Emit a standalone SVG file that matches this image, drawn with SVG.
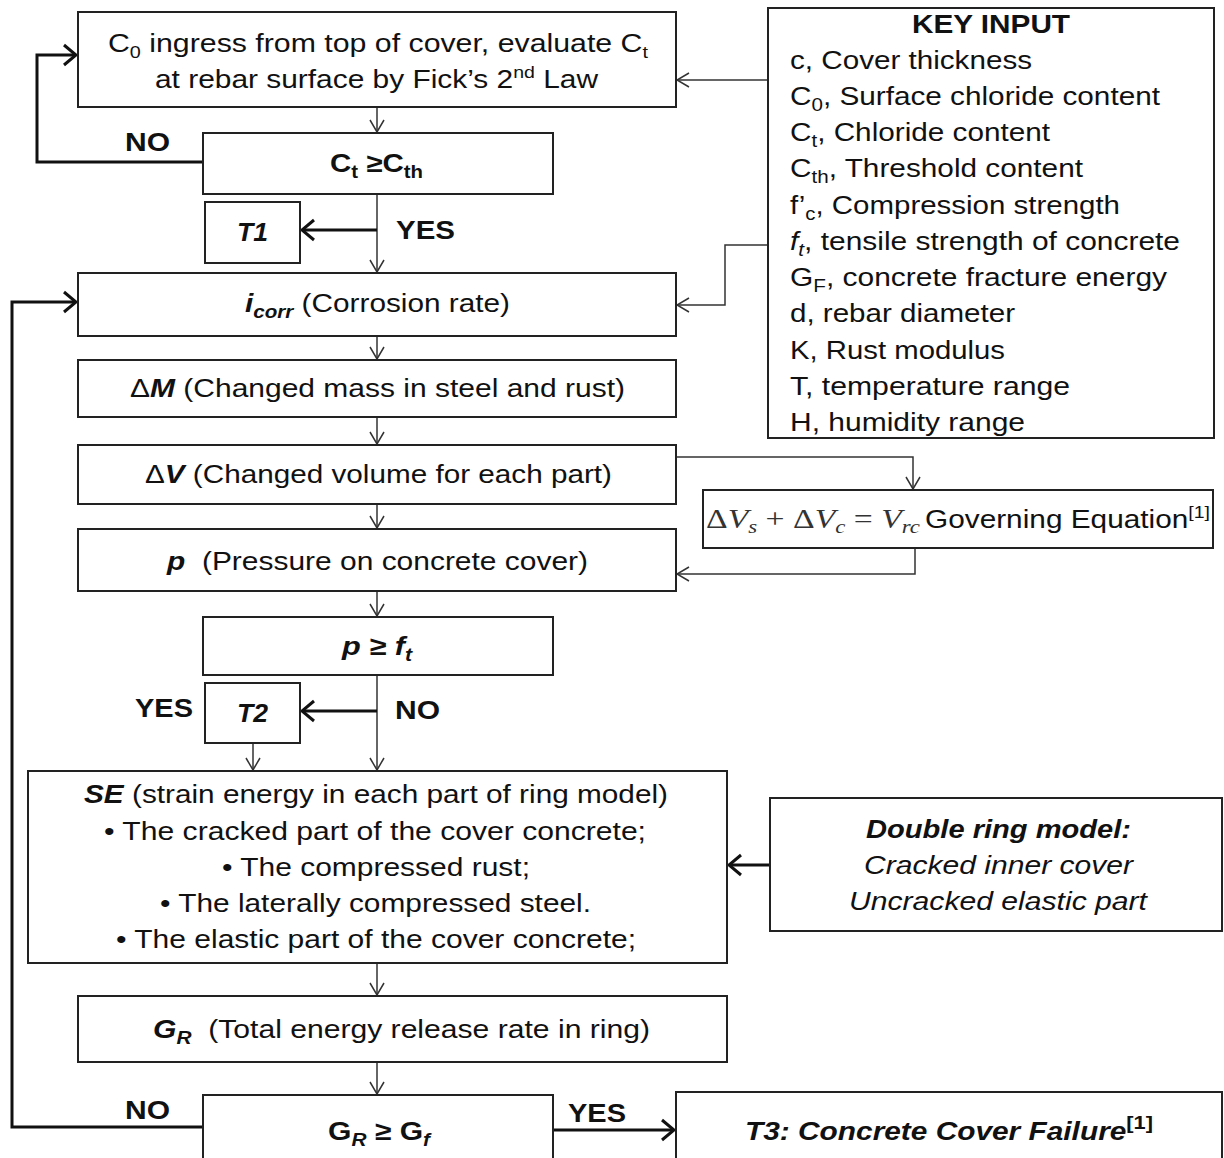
<svg xmlns="http://www.w3.org/2000/svg" width="1224" height="1158" viewBox="0 0 1224 1158">
<style>
.box{fill:#fff;stroke:#222;stroke-width:2}
text{font-family:"Liberation Sans",Arial,sans-serif;font-size:26px;fill:#111}
.b{font-weight:bold}
.bi{font-weight:bold;font-style:italic}
.i{font-style:italic}
.thin{fill:none;stroke:#333;stroke-width:1.5}
.thick{fill:none;stroke:#111;stroke-width:3}
.eq{font-family:"Liberation Serif","Times New Roman",serif;font-size:28px;fill:#333}
</style>
<defs>
<marker id="ah" viewBox="0 0 14 16" refX="13" refY="8" markerWidth="14" markerHeight="16" markerUnits="userSpaceOnUse" orient="auto">
<path d="M1,1 L13,8 L1,15" fill="none" stroke="#333" stroke-width="1.5"/>
</marker>
<marker id="ahk" viewBox="0 0 16 24" refX="14" refY="12" markerWidth="16" markerHeight="24" markerUnits="userSpaceOnUse" orient="auto">
<path d="M2,2 L14,12 L2,22" fill="none" stroke="#111" stroke-width="3"/>
</marker>
</defs>

<g id="connectors">
<path class="thin" d="M377,107 V132" marker-end="url(#ah)"/>
<path class="thick" d="M203,162 H37 V55 H76" marker-end="url(#ahk)"/>
<path class="thin" d="M377,194 V272" marker-end="url(#ah)"/>
<path class="thick" d="M377,230 H302" marker-end="url(#ahk)"/>
<path class="thin" d="M377,336 V359" marker-end="url(#ah)"/>
<path class="thin" d="M377,417 V444" marker-end="url(#ah)"/>
<path class="thin" d="M377,504 V528" marker-end="url(#ah)"/>
<path class="thin" d="M377,591 V616" marker-end="url(#ah)"/>
<path class="thin" d="M676,457 H913 V489" marker-end="url(#ah)"/>
<path class="thin" d="M915,548 V574 H677" marker-end="url(#ah)"/>
<path class="thin" d="M768,80 H677" marker-end="url(#ah)"/>
<path class="thin" d="M768,245 H725 V305 H677" marker-end="url(#ah)"/>
<path class="thin" d="M377,675 V770" marker-end="url(#ah)"/>
<path class="thick" d="M377,711 H302" marker-end="url(#ahk)"/>
<path class="thin" d="M253,743 V770" marker-end="url(#ah)"/>
<path class="thin" d="M377,963 V995" marker-end="url(#ah)"/>
<path class="thin" d="M377,1062 V1094" marker-end="url(#ah)"/>
<path class="thick" d="M203,1127 H12 V302 H76" marker-end="url(#ahk)"/>
<path class="thick" d="M553,1130 H674" marker-end="url(#ahk)"/>
<path class="thick" d="M770,865 H729" marker-end="url(#ahk)"/>
<text class="b" x="125" y="151" textLength="45" lengthAdjust="spacingAndGlyphs">NO</text>
<text class="b" x="396" y="239" textLength="59" lengthAdjust="spacingAndGlyphs">YES</text>
<text class="b" x="135" y="717" textLength="58" lengthAdjust="spacingAndGlyphs">YES</text>
<text class="b" x="395" y="719" textLength="45" lengthAdjust="spacingAndGlyphs">NO</text>
<text class="b" x="125" y="1119" textLength="45" lengthAdjust="spacingAndGlyphs">NO</text>
<text class="b" x="568" y="1122" textLength="58" lengthAdjust="spacingAndGlyphs">YES</text>
</g>

<g id="n-ingress">
<rect class="box" x="78" y="12" width="598" height="95"/>
<text x="108" y="52" textLength="540" lengthAdjust="spacingAndGlyphs">C<tspan dy="6" font-size="17">0</tspan><tspan dy="-6"> ingress from top of cover, evaluate  C</tspan><tspan dy="6" font-size="17">t</tspan></text>
<text x="155" y="88" textLength="443" lengthAdjust="spacingAndGlyphs">at rebar surface by Fick’s 2<tspan dy="-10" font-size="17">nd</tspan><tspan dy="10"> Law</tspan></text>
</g>

<g id="n-ctcheck">
<rect class="box" x="203" y="133" width="350" height="61"/>
<text class="b" x="330" y="172" textLength="93" lengthAdjust="spacingAndGlyphs">C<tspan dy="6" font-size="18">t</tspan><tspan dy="-6"> ≥C</tspan><tspan dy="6" font-size="18">th</tspan></text>
</g>

<g id="n-t1">
<rect class="box" x="205" y="202" width="95" height="61"/>
<text class="bi" x="237" y="241" textLength="31" lengthAdjust="spacingAndGlyphs">T1</text>
</g>

<g id="n-icorr">
<rect class="box" x="78" y="273" width="598" height="63"/>
<text x="245" y="312" textLength="265" lengthAdjust="spacingAndGlyphs"><tspan class="bi">i</tspan><tspan class="bi" dy="6" font-size="18">corr</tspan><tspan dy="-6"> (Corrosion rate)</tspan></text>
</g>

<g id="n-dm">
<rect class="box" x="78" y="360" width="598" height="57"/>
<text x="130" y="397" textLength="495" lengthAdjust="spacingAndGlyphs">Δ<tspan class="bi">M</tspan> (Changed mass in steel and rust)</text>
</g>

<g id="n-dv">
<rect class="box" x="78" y="445" width="598" height="59"/>
<text x="145" y="483" textLength="467" lengthAdjust="spacingAndGlyphs">Δ<tspan class="bi">V</tspan> (Changed volume  for each part)</text>
</g>

<g id="n-p">
<rect class="box" x="78" y="529" width="598" height="62"/>
<text x="167" y="570" textLength="421" lengthAdjust="spacingAndGlyphs" xml:space="preserve"><tspan class="bi">p</tspan>  (Pressure on concrete cover)</text>
</g>

<g id="n-pcheck">
<rect class="box" x="203" y="617" width="350" height="58"/>
<text class="bi" x="342" y="655" textLength="70" lengthAdjust="spacingAndGlyphs">p ≥ f<tspan dy="6" font-size="18">t</tspan></text>
</g>

<g id="n-t2">
<rect class="box" x="205" y="683" width="95" height="60"/>
<text class="bi" x="237" y="722" textLength="31" lengthAdjust="spacingAndGlyphs">T2</text>
</g>

<g id="n-se">
<rect class="box" x="28" y="771" width="699" height="192"/>
<text x="84" y="803" textLength="584" lengthAdjust="spacingAndGlyphs"><tspan class="bi">SE</tspan> (strain energy in each part of ring model)</text>
<text x="104" y="840" textLength="542" lengthAdjust="spacingAndGlyphs">• The  cracked part of the cover concrete;</text>
<text x="222" y="876" textLength="308" lengthAdjust="spacingAndGlyphs">• The  compressed rust;</text>
<text x="160" y="912" textLength="431" lengthAdjust="spacingAndGlyphs">• The  laterally compressed steel.</text>
<text x="116" y="948" textLength="520" lengthAdjust="spacingAndGlyphs">• The  elastic part of the cover concrete;</text>
</g>

<g id="n-gr">
<rect class="box" x="78" y="996" width="649" height="66"/>
<text x="153" y="1038" textLength="497" lengthAdjust="spacingAndGlyphs" xml:space="preserve"><tspan class="bi">G</tspan><tspan class="bi" dy="6" font-size="18">R</tspan><tspan dy="-6">  (Total energy release rate in ring)</tspan></text>
</g>

<g id="n-grcheck">
<rect class="box" x="203" y="1095" width="350" height="70"/>
<text class="b" x="328" y="1140" textLength="102" lengthAdjust="spacingAndGlyphs">G<tspan class="bi" dy="6" font-size="18">R</tspan><tspan dy="-6"> ≥ G</tspan><tspan class="bi" dy="6" font-size="18">f</tspan></text>
</g>

<g id="n-t3">
<rect class="box" x="676" y="1092" width="546" height="73"/>
<text class="bi" x="745" y="1140" textLength="408" lengthAdjust="spacingAndGlyphs">T3: Concrete Cover Failure<tspan dy="-11" font-size="19" font-style="normal">[1]</tspan></text>
</g>

<g id="n-key">
<rect class="box" x="768" y="8" width="446" height="430"/>
<text class="b" x="912" y="33" textLength="158" lengthAdjust="spacingAndGlyphs">KEY INPUT</text>
<text x="790" y="69" textLength="242" lengthAdjust="spacingAndGlyphs">c, Cover  thickness</text>
<text x="790" y="105" textLength="370" lengthAdjust="spacingAndGlyphs">C<tspan dy="6" font-size="18">0</tspan><tspan dy="-6">, Surface chloride  content</tspan></text>
<text x="790" y="141" textLength="260" lengthAdjust="spacingAndGlyphs">C<tspan dy="6" font-size="18">t</tspan><tspan dy="-6">, Chloride  content</tspan></text>
<text x="790" y="177" textLength="293" lengthAdjust="spacingAndGlyphs">C<tspan dy="6" font-size="18">th</tspan><tspan dy="-6">, Threshold  content</tspan></text>
<text x="790" y="214" textLength="330" lengthAdjust="spacingAndGlyphs">f’<tspan dy="6" font-size="18">c</tspan><tspan dy="-6">, Compression  strength</tspan></text>
<text x="790" y="250" textLength="390" lengthAdjust="spacingAndGlyphs"><tspan class="i">f</tspan><tspan class="i" dy="6" font-size="18">t</tspan><tspan dy="-6">, tensile  strength  of concrete</tspan></text>
<text x="790" y="286" textLength="377" lengthAdjust="spacingAndGlyphs">G<tspan dy="6" font-size="18">F</tspan><tspan dy="-6">,  concrete fracture energy</tspan></text>
<text x="790" y="322" textLength="225" lengthAdjust="spacingAndGlyphs">d, rebar diameter</text>
<text x="790" y="359" textLength="215" lengthAdjust="spacingAndGlyphs">K, Rust  modulus</text>
<text x="790" y="395" textLength="280" lengthAdjust="spacingAndGlyphs">T, temperature  range</text>
<text x="790" y="431" textLength="235" lengthAdjust="spacingAndGlyphs">H, humidity  range</text>
</g>

<g id="n-gov">
<rect class="box" x="703" y="490" width="510" height="58"/>
<text class="eq" x="706" y="528" textLength="214" lengthAdjust="spacingAndGlyphs">Δ<tspan font-style="italic">V</tspan><tspan font-style="italic" dy="5" font-size="19">s</tspan><tspan dy="-5"> + Δ</tspan><tspan font-style="italic">V</tspan><tspan font-style="italic" dy="5" font-size="19">c</tspan><tspan dy="-5"> = </tspan><tspan font-style="italic">V</tspan><tspan font-style="italic" dy="5" font-size="19">rc</tspan></text>
<text x="925" y="528" textLength="285" lengthAdjust="spacingAndGlyphs">Governing  Equation<tspan dy="-10" font-size="17">[1]</tspan></text>
</g>

<g id="n-ring">
<rect class="box" x="770" y="798" width="452" height="133"/>
<text class="bi" x="866" y="838" textLength="265" lengthAdjust="spacingAndGlyphs">Double  ring  model:</text>
<text class="i" x="864" y="874" textLength="269" lengthAdjust="spacingAndGlyphs">Cracked inner  cover</text>
<text class="i" x="849" y="910" textLength="298" lengthAdjust="spacingAndGlyphs">Uncracked elastic part</text>
</g>
</svg>
